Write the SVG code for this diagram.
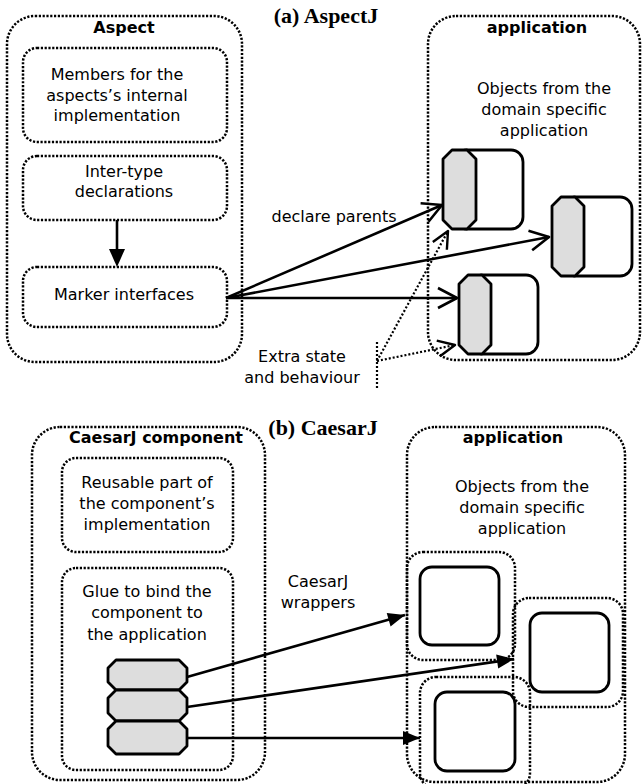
<svg xmlns="http://www.w3.org/2000/svg" width="643" height="784" viewBox="0 0 643 784">
<style>
.t{font-family:"DejaVu Sans","Liberation Sans",sans-serif;font-size:16px;fill:#000;text-anchor:middle}
.b{font-weight:bold}
.title{font-family:"Liberation Serif","Times New Roman",serif;font-size:22px;font-weight:bold;text-anchor:middle;fill:#000}
.dot{fill:none;stroke:#000;stroke-width:2.5;stroke-dasharray:2.2 1.6}
.dotl{fill:none;stroke:#000;stroke-width:2.2;stroke-dasharray:2 2}
.obj{fill:#fff;stroke:#000;stroke-width:2.8}
.gray{fill:#ddd;stroke:#000;stroke-width:2.8;stroke-linejoin:round}
.ln{fill:none;stroke:#000;stroke-width:2.6}
</style>
<defs>
<marker id="open" markerUnits="userSpaceOnUse" viewBox="0 0 22 22" markerWidth="22" markerHeight="22" refX="20" refY="11" orient="auto" overflow="visible">
<path d="M1,1 L20,11 L1,21" fill="none" stroke="#000" stroke-width="2.6" stroke-linejoin="round"/>
</marker>
<marker id="openS" markerUnits="userSpaceOnUse" viewBox="0 0 20 20" markerWidth="20" markerHeight="20" refX="18" refY="9" orient="auto" overflow="visible">
<path d="M1,1 L18,9 L1,17" fill="none" stroke="#000" stroke-width="2.4" stroke-linejoin="round"/>
</marker>
<marker id="fill" markerUnits="userSpaceOnUse" viewBox="0 0 18 14" markerWidth="18" markerHeight="14" refX="17" refY="7" orient="auto" overflow="visible">
<path d="M0,0 L17,7 L0,14 z" fill="#000"/>
</marker>
</defs>

<text class="title" x="326" y="23">(a) AspectJ</text>
<text class="title" x="323" y="435">(b) CaesarJ</text>

<g id="aspect">
<rect class="dot" x="7" y="16" width="235" height="346" rx="28"/>
<text class="t b" x="124" y="33">Aspect</text>
</g>
<g id="members">
<rect class="dot" x="23" y="48" width="204" height="94" rx="14"/>
<text class="t" x="117" y="80">Members for the</text>
<text class="t" x="117" y="101">aspects’s internal</text>
<text class="t" x="117" y="121">implementation</text>
</g>
<g id="intertype">
<rect class="dot" x="23" y="156" width="204" height="64" rx="14"/>
<text class="t" x="124" y="177">Inter-type</text>
<text class="t" x="124" y="197">declarations</text>
</g>
<g id="marker">
<rect class="dot" x="23" y="267" width="204" height="60" rx="14"/>
<text class="t" x="124" y="300">Marker interfaces</text>
</g>

<g id="application-a">
<rect class="dot" x="428" y="16" width="212" height="344" rx="28"/>
<text class="t b" x="537" y="33">application</text>
<text class="t" x="544" y="94">Objects from the</text>
<text class="t" x="544" y="115">domain specific</text>
<text class="t" x="544" y="136">application</text>
</g>
<g id="obj-a1">
<rect class="obj" x="455" y="150" width="68" height="79" rx="12"/>
<polygon class="gray" points="452,150 467,150 476,159 476,220 467,229 452,229 443,220 443,159"/>
</g>
<g id="obj-a2">
<rect class="obj" x="564" y="197" width="68" height="79" rx="12"/>
<polygon class="gray" points="561,197 575,197 584,206 584,267 575,276 561,276 552,267 552,206"/>
</g>
<g id="obj-a3">
<rect class="obj" x="471" y="275" width="67" height="79" rx="12"/>
<polygon class="gray" points="468,275 482,275 491,284 491,345 482,354 468,354 459,345 459,284"/>
</g>

<g id="labels-a">
<text class="t" x="334" y="222">declare parents</text>
<text class="t" x="302" y="362">Extra state</text>
<text class="t" x="302" y="383">and behaviour</text>
</g>

<g id="component">
<rect class="dot" x="32" y="427" width="233" height="353" rx="28"/>
<text class="t b" x="156" y="443">CaesarJ component</text>
</g>
<g id="reusable">
<rect class="dot" x="62" y="458" width="171" height="94" rx="14"/>
<text class="t" x="147" y="488">Reusable part of</text>
<text class="t" x="147" y="509">the component’s</text>
<text class="t" x="147" y="530">implementation</text>
</g>
<g id="glue">
<rect class="dot" x="62" y="568" width="171" height="202" rx="14"/>
<text class="t" x="147" y="597">Glue to bind the</text>
<text class="t" x="147" y="618">component to</text>
<text class="t" x="147" y="640">the application</text>
</g>
<g id="stack">
<polygon class="gray" points="116,660 179,660 187,668 187,682 179,690 116,690 108,682 108,668"/>
<polygon class="gray" points="116,690 179,690 187,698 187,713 179,721 116,721 108,713 108,698"/>
<polygon class="gray" points="116,721 179,721 187,729 187,746 179,754 116,754 108,746 108,729"/>
</g>

<g id="application-b">
<rect class="dot" x="407" y="427" width="218" height="355" rx="28"/>
<text class="t b" x="513" y="443">application</text>
<text class="t" x="522" y="492">Objects from the</text>
<text class="t" x="522" y="513">domain specific</text>
<text class="t" x="522" y="534">application</text>
</g>
<g id="wrap-b1">
<rect class="dot" x="407" y="552" width="108" height="108" rx="16"/>
<rect class="obj" x="420" y="567" width="79" height="78" rx="12"/>
</g>
<g id="wrap-b2">
<rect class="dot" x="513" y="598" width="110" height="109" rx="16"/>
<rect class="obj" x="530" y="613" width="79" height="79" rx="12"/>
</g>
<g id="wrap-b3">
<rect class="dot" x="420" y="677" width="110" height="112" rx="16"/>
<rect class="obj" x="435" y="692" width="80" height="79" rx="12"/>
</g>
<g id="labels-b">
<text class="t" x="318" y="587">CaesarJ</text>
<text class="t" x="318" y="608">wrappers</text>
</g>

<g id="connectors">
<line class="ln" x1="117" y1="220" x2="117" y2="250"/>
<polygon points="109,249 125,249 117,267" fill="#000"/>
<line class="ln" x1="226" y1="298" x2="442" y2="205" marker-end="url(#open)"/>
<line class="ln" x1="226" y1="298" x2="549" y2="237" marker-end="url(#open)"/>
<line class="ln" x1="226" y1="298" x2="457" y2="298" marker-end="url(#open)"/>
<line class="dotl" x1="377" y1="342" x2="377" y2="390"/>
<line class="dotl" x1="377" y1="361" x2="448" y2="231" marker-end="url(#openS)"/>
<line class="dotl" x1="377" y1="361" x2="455" y2="345" marker-end="url(#openS)"/>
<line class="ln" x1="187" y1="677" x2="405" y2="615" marker-end="url(#fill)"/>
<line class="ln" x1="187" y1="707" x2="514" y2="659" marker-end="url(#fill)"/>
<line class="ln" x1="187" y1="738" x2="420" y2="738" marker-end="url(#fill)"/>
</g>
</svg>
